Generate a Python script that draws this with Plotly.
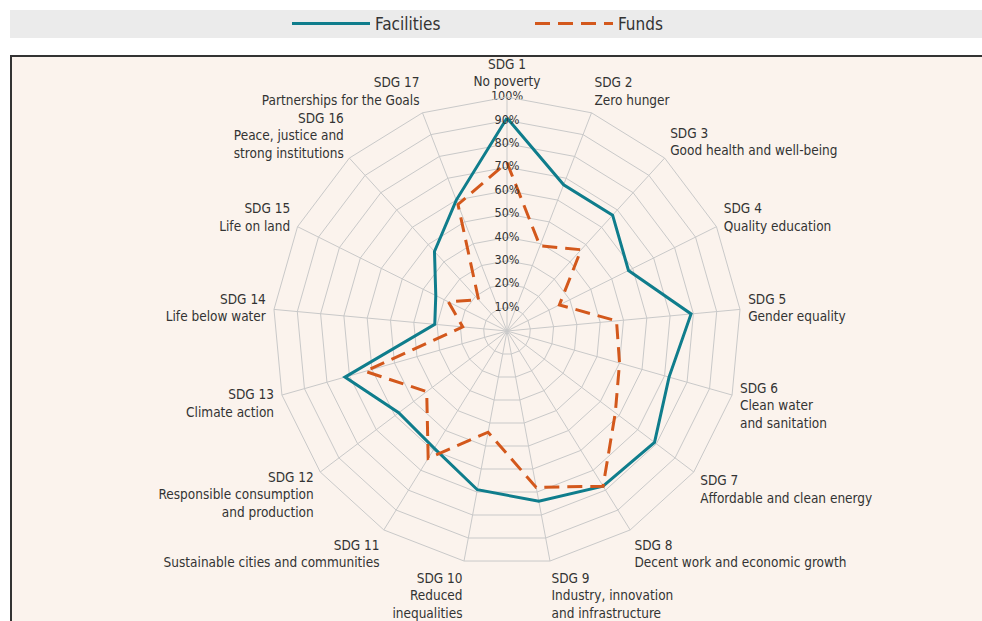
import plotly.graph_objects as go

# SDG categories (clockwise from top)
categories = [
    "SDG 1<br>No poverty",
    "SDG 2<br>Zero hunger",
    "SDG 3<br>Good health and well-being",
    "SDG 4<br>Quality education",
    "SDG 5<br>Gender equality",
    "SDG 6<br>Clean water<br>and sanitation",
    "SDG 7<br>Affordable and clean energy",
    "SDG 8<br>Decent work and economic growth",
    "SDG 9<br>Industry, innovation<br>and infrastructure",
    "SDG 10<br>Reduced<br>inequalities",
    "SDG 11<br>Sustainable cities and communities",
    "SDG 12<br>Responsible consumption<br>and production",
    "SDG 13<br>Climate action",
    "SDG 14<br>Life below water",
    "SDG 15<br>Life on land",
    "SDG 16<br>Peace, justice and<br>strong institutions",
    "SDG 17<br>Partnerships for the Goals",
]

# share of facilities / funds linked to each goal (%)
facilities = [91, 67, 67, 58, 79, 72, 79, 78, 74, 69, 59, 58, 72, 31, 34, 46, 60]
funds = [72, 39, 47, 25, 47, 50, 58, 78, 68, 44, 64, 43, 63, 19, 28, 18, 58]

radial_ticks = [0, 10, 20, 30, 40, 50, 60, 70, 80, 90, 100]
radial_labels = [f"{t}%" for t in radial_ticks]

FONT = "Liberation Sans Narrow, DejaVu Sans Condensed, Roboto, sans-serif"
TEAL = "#0f7d8c"
ORANGE = "#d3581c"

W, H = 982, 621

fig = go.Figure()

# close the polygons
fig.add_trace(go.Scatterpolar(
    r=facilities + facilities[:1], theta=categories + categories[:1],
    mode="lines", name="Facilities",
    line=dict(color=TEAL, width=3),
))
fig.add_trace(go.Scatterpolar(
    r=funds + funds[:1], theta=categories + categories[:1],
    mode="lines", name="Funds",
    line=dict(color=ORANGE, width=3, dash="15px,8px"),
))

# radial tick labels centred on the SDG 1 spoke
fig.add_trace(go.Scatterpolar(
    r=radial_ticks, theta=[categories[0]] * len(radial_ticks),
    mode="text", text=radial_labels, textposition="middle center",
    textfont=dict(family=FONT, size=12.5, color="#333333"),
    showlegend=False, hoverinfo="skip",
))

cx, cy, R = 507, 331, 234
fig.update_layout(
    width=W, height=H,
    margin=dict(l=0, r=0, t=0, b=0),
    paper_bgcolor="white",
    font=dict(family=FONT, color="#333333"),
    polar=dict(
        domain=dict(x=[(cx - R) / W, (cx + R) / W],
                    y=[1 - (cy + R) / H, 1 - (cy - R) / H]),
        bgcolor="rgba(0,0,0,0)",
        gridshape="linear",
        radialaxis=dict(
            range=[0, 100], tickvals=radial_ticks, showticklabels=False,
            showline=False, ticks="", gridcolor="#c9c9c9", gridwidth=1,
            angle=90,
        ),
        angularaxis=dict(
            direction="clockwise", rotation=90,
            gridcolor="#c9c9c9", gridwidth=1,
            linecolor="#c9c9c9", linewidth=1,
            ticks="outside", ticklen=5, tickcolor="rgba(0,0,0,0)",
            tickfont=dict(family=FONT, size=13.5, color="#333333"),
        ),
    ),
    legend=dict(
        orientation="h", x=287 / W, xanchor="left", y=1 - 6 / H, yanchor="top",
        bgcolor="rgba(0,0,0,0)", itemwidth=78,
        entrywidth=150, entrywidthmode="pixels",
        font=dict(family=FONT, size=17, color="#333333"),
    ),
    shapes=[
        # legend band
        dict(type="rect", xref="paper", yref="paper",
             x0=10 / W, x1=1, y0=1 - 38 / H, y1=1 - 10 / H,
             fillcolor="#ebebeb", line=dict(width=0), layer="below"),
        # plot panel
        dict(type="rect", xref="paper", yref="paper",
             x0=11 / W, x1=1, y0=0, y1=1 - 56 / H,
             fillcolor="#fbf3ed", line=dict(width=0), layer="below"),
        dict(type="line", xref="paper", yref="paper",
             x0=11 / W, x1=11 / W, y0=0, y1=1 - 55 / H,
             line=dict(color="#333333", width=2), layer="below"),
        dict(type="line", xref="paper", yref="paper",
             x0=10 / W, x1=1, y0=1 - 56 / H, y1=1 - 56 / H,
             line=dict(color="#333333", width=2), layer="below"),
    ],
)

fig.write_html("out.html", config={"displayModeBar": False},
               post_script="document.body.style.margin='0';")
